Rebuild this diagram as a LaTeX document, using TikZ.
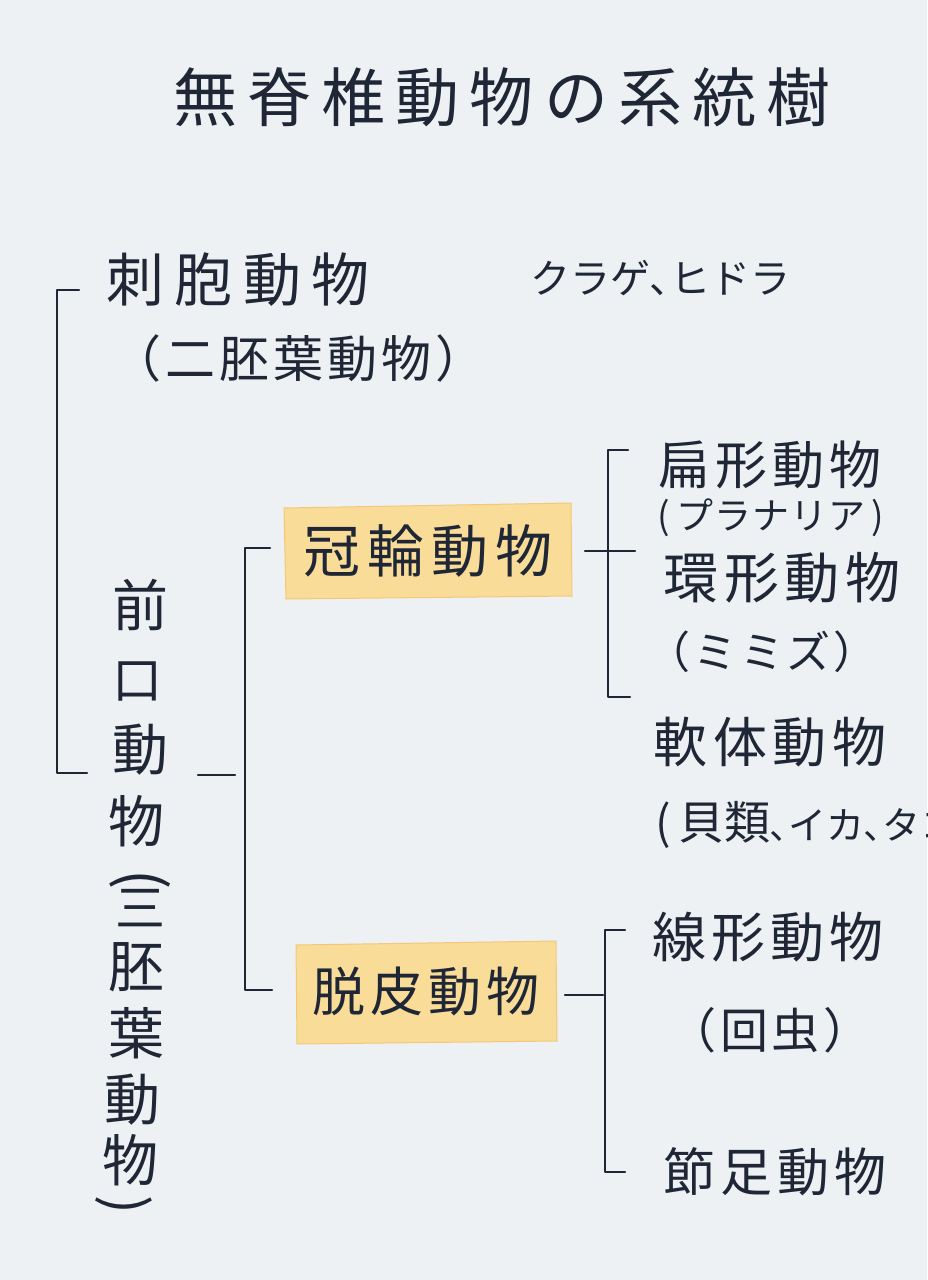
\documentclass[tikz,border=0pt]{standalone}
\usepackage{fontspec}
\newfontfamily\jp{Noto Sans CJK JP}
\newcommand\jt[2]{\jp\fontsize{#1}{#1}\selectfont\addfontfeatures{LetterSpace=#2}}
\definecolor{paper}{HTML}{EEF1F3}
\definecolor{ink}{HTML}{1F2636}
\definecolor{hilite}{HTML}{F8DC98}
\definecolor{hiliteedge}{HTML}{F2C878}
\begin{document}
\begin{tikzpicture}[x=1pt,y=-1pt,
  txt/.style={inner sep=0pt, text=ink, anchor=center},
  brk/.style={draw=ink, line width=2.3pt, line cap=round, line join=round},
  hl/.style={fill=hilite, draw=hiliteedge, line width=1pt}]
\useasboundingbox (0,0) rectangle (927,1280);
\fill[paper] (0,0) rectangle (927,1280);

% highlights
\path[hl] (284,508) -- (571,503) -- (572,596) -- (286,599) -- cycle;
\path[hl] (296,945) -- (556,941) -- (557,1041) -- (297,1044) -- cycle;

% title
\node[txt] (title) at (502,97) {\jt{64}{16}無脊椎動物の系統樹};

% top group
\node[txt] (shiho) at (238,280) {\jt{58}{18}刺胞動物};
\node[txt] (nihai) at (298,358) {\jt{50}{8}（二胚葉動物）};
\node[txt] (kurage) at (660,278) {\jt{40}{0}クラゲ{\jt{40}{0}､}ヒドラ};

% vertical text
\node[txt] (v1) at (140,605) {\jt{56}{0}前};
\node[txt] (v2) at (137,681) {\jt{50}{0}口};
\node[txt] (v3) at (140,750) {\jt{56}{0}動};
\node[txt] (v4) at (136,821) {\jt{56}{0}物};
\node[txt, rotate=-90] (v5) at (140,880) {\jt{60}{0}(};
\node[txt] (v6) at (140,908) {\jt{50}{0}三};
\node[txt] (v7) at (136,967) {\jt{56}{0}胚};
\node[txt] (v8) at (136,1033) {\jt{56}{0}葉};
\node[txt] (v9) at (132,1100) {\jt{56}{0}動};
\node[txt] (v10) at (130,1160) {\jt{56}{0}物};
\node[txt, rotate=-90] (v11) at (124,1205) {\jt{56}{0})};

% middle
\node[txt] (kanrin) at (428,551) {\jt{57}{12}冠輪動物};
\node[txt] (dappi) at (426,991) {\jt{53}{10}脱皮動物};

% right upper
\node[txt] (hen) at (770,465) {\jt{52}{10}扁形動物};
\node[txt] (plan) at (771,518) {\jt{37}{3}(\,プラナリア\,)};
\node[txt] (kan) at (782,578) {\jt{55}{10}環形動物};
\node[txt] (mimizu) at (762,652) {\jt{44}{6}（ミミズ）};
\node[txt] (nantai) at (770,742) {\jt{54}{10}軟体動物};
\node[txt, anchor=west] (kai) at (655,825) {\jt{46}{0}(\,貝類{\jt{36}{0}､}{\jt{38}{0}イカ}{\jt{36}{0}､}{\jt{38}{0}タコ}\,)};

% right lower
\node[txt] (sen) at (768,937) {\jt{54}{9}線形動物};
\node[txt] (kaichu) at (770,1030) {\jt{48}{8}（回虫）};
\node[txt] (sessoku) at (775,1172) {\jt{52}{10}節足動物};

% bracket coordinates
\coordinate (L1) at (79,290);
\coordinate (L2) at (57,290);
\coordinate (L3) at (57,773);
\coordinate (L4) at (87,773);
\coordinate (T1) at (198,775);
\coordinate (T2) at (235,775);
\coordinate (M1) at (270,548);
\coordinate (M2) at (245,548);
\coordinate (M3) at (245,990);
\coordinate (M4) at (272,990);
\coordinate (R1) at (628,450);
\coordinate (R2) at (608,450);
\coordinate (R3) at (608,697);
\coordinate (R4) at (630,697);
\coordinate (RT1) at (585,551);
\coordinate (RT2) at (635,551);
\coordinate (S1) at (625,930);
\coordinate (S2) at (605,930);
\coordinate (S3) at (605,1172);
\coordinate (S4) at (625,1172);
\coordinate (ST1) at (565,995);
\coordinate (ST2) at (603,995);

\draw[brk] (L1) -- (L2) -- (L3) -- (L4);
\draw[brk] (T1) -- (T2);
\draw[brk] (M1) -- (M2) -- (M3) -- (M4);
\draw[brk] (R1) -- (R2) -- (R3) -- (R4);
\draw[brk] (RT1) -- (RT2);
\draw[brk] (S1) -- (S2) -- (S3) -- (S4);
\draw[brk] (ST1) -- (ST2);
\end{tikzpicture}
\end{document}
